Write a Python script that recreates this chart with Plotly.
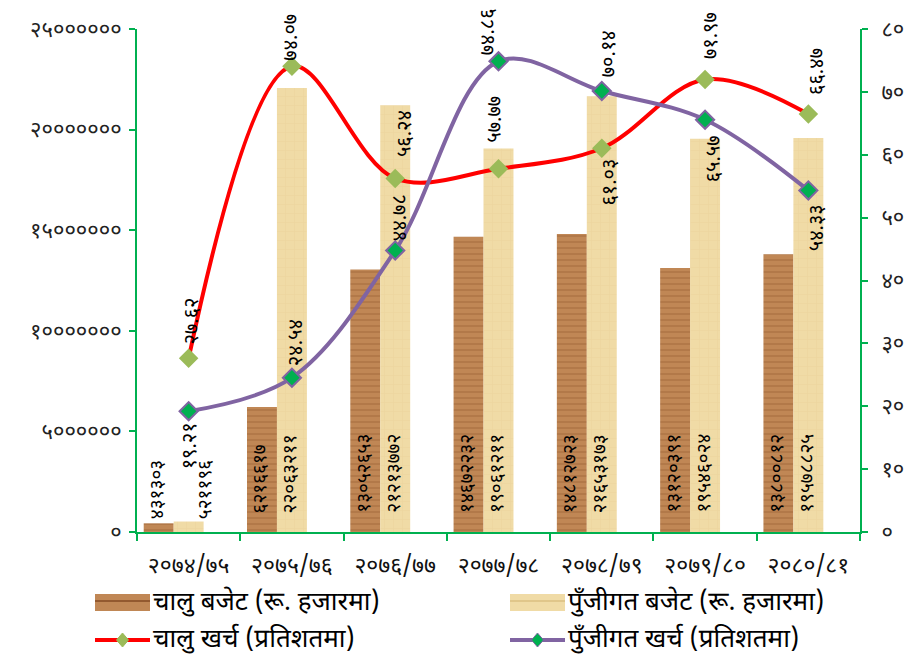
import plotly.graph_objects as go

# ---------------- data ----------------
years = ["२०७४/७५", "२०७५/७६", "२०७६/७७", "२०७७/७८", "२०७८/७९", "२०७९/८०", "२०८०/८१"]
current_budget = [431303, 6216617, 13052653, 14672232, 14812723, 13120391, 13800812]
capital_budget = [521196, 22063211, 21213772, 19061211, 21653173, 19546024, 19578825]
current_exp_pct = [27.62, 74.07, 56.24, 57.77, 61.03, 71.97, 66.47]
capital_exp_pct = [19.21, 24.54, 44.78, 74.86, 70.14, 65.57, 54.33]
left_ticks = [0, 5000000, 10000000, 15000000, 20000000, 25000000]
right_ticks = [0, 10, 20, 30, 40, 50, 60, 70, 80]

name_cur_budget = "चालु बजेट (रू. हजारमा)"
name_cap_budget = "पुँजीगत बजेट (रू. हजारमा)"
name_cur_exp = "चालु खर्च (प्रतिशतमा)"
name_cap_exp = "पुँजीगत खर्च (प्रतिशतमा)"

DEV = str.maketrans("0123456789", "०१२३४५६७८९")


def dev(s):
    return str(s).translate(DEV)


# ---------------- styles ----------------
W, H = 906, 658
ML, MR, MT, MB = 137, 46, 29, 126
PW, PH = W - ML - MR, H - MT - MB
FONT = "Noto Sans Devanagari, Mangal, Lohit Devanagari, Kalimati, FreeSans, Noto Sans, sans-serif"
GREEN = "#00B050"
BROWN = "#C08755"
BROWN_DARK = "#93592F"
BEIGE = "#F0DBA6"
BEIGE_DARK = "#E0C68A"
RED = "#FF0000"
PURPLE = "#8064A2"
OLIVE = "#9BBB59"
BAR_W = 0.29


def px_x(p):
    return (p - ML) / PW


def px_y(p):
    return (H - MB - p) / PH


fig = go.Figure()

fig.add_trace(go.Bar(
    x=years, y=current_budget, name=name_cur_budget,
    width=BAR_W, offset=-1.5 * BAR_W,
    marker=dict(color=BROWN, line=dict(width=0),
                pattern=dict(shape="-", fgcolor=BROWN_DARK, fgopacity=0.35, size=6, solidity=0.3)),
    hoverinfo="x+y",
))
fig.add_trace(go.Bar(
    x=years, y=capital_budget, name=name_cap_budget,
    width=BAR_W, offset=-0.5 * BAR_W,
    marker=dict(color=BEIGE, line=dict(width=0),
                pattern=dict(shape="+", fgcolor=BEIGE_DARK, fgopacity=0.3, size=9, solidity=0.12)),
    hoverinfo="x+y",
))
fig.add_trace(go.Scatter(
    x=years, y=current_exp_pct, name=name_cur_exp, yaxis="y2",
    mode="lines+markers",
    line=dict(color=RED, width=4, shape="spline", smoothing=1.0),
    marker=dict(symbol="diamond", size=15, color=OLIVE, line=dict(width=0)),
))
fig.add_trace(go.Scatter(
    x=years, y=capital_exp_pct, name=name_cap_exp, yaxis="y2",
    mode="lines+markers",
    line=dict(color=PURPLE, width=4, shape="spline", smoothing=1.0),
    marker=dict(symbol="diamond", size=14, color=GREEN, line=dict(width=2, color=PURPLE)),
))

annotations = []

# bar value labels (rotated, starting near the base)
bar_label_lift = [11, 17, 17, 17, 17, 17, 17]
cap_label_dx = [18, 0, 0, 0, 0, 0, 0]
for i, yr in enumerate(years):
    for vals, xs in ((current_budget, -30), (capital_budget, cap_label_dx[i])):
        annotations.append(dict(
            x=yr, y=0, xref="x", yref="y", text=dev(vals[i]), textangle=-90,
            showarrow=False, xanchor="center", yanchor="bottom",
            xshift=xs, yshift=bar_label_lift[i],
            font=dict(family=FONT, size=19, color="#000000"),
        ))

# line value labels
cur_place = [("above", 4, 12), ("above", 0, 4), ("above", 11, 19), ("above", -2, 24),
             ("below", 9, 8), ("above", 7, 18), ("above", 9, 17)]
cap_place = [("below", 2, 9), ("above", 5, 10), ("above", 6, 7), ("above", -10, 4),
             ("above", 9, 12), ("below", 10, 14), ("below", 10, 12)]
for series, places in ((current_exp_pct, cur_place), (capital_exp_pct, cap_place)):
    for i, yr in enumerate(years):
        pos, dx, dy = places[i]
        annotations.append(dict(
            x=yr, y=series[i], xref="x", yref="y2", text=dev(f"{series[i]:.2f}"),
            textangle=-90, showarrow=False, xanchor="center",
            yanchor="bottom" if pos == "above" else "top",
            xshift=dx, yshift=dy if pos == "above" else -dy,
            font=dict(family=FONT, size=20, color="#000000"),
        ))

# manual legend
shapes = []
legend_rows = [
    (603, [(95, "bar", BROWN, BROWN_DARK, name_cur_budget), (510, "bar", BEIGE, BEIGE_DARK, name_cap_budget)]),
    (640, [(95, "line", RED, OLIVE, name_cur_exp), (510, "line", PURPLE, GREEN, name_cap_exp)]),
]
for yc, items in legend_rows:
    for x0, kind, c1, c2, label in items:
        if kind == "bar":
            shapes.append(dict(type="rect", xref="paper", yref="paper",
                               x0=px_x(x0), x1=px_x(x0 + 55), y0=px_y(yc + 8), y1=px_y(yc - 9),
                               fillcolor=c1, line=dict(width=0)))
            shapes.append(dict(type="line", xref="paper", yref="paper",
                               x0=px_x(x0), x1=px_x(x0 + 55), y0=px_y(yc - 2), y1=px_y(yc - 2),
                               line=dict(color=c2, width=2)))
        else:
            shapes.append(dict(type="line", xref="paper", yref="paper",
                               x0=px_x(x0), x1=px_x(x0 + 55), y0=px_y(yc), y1=px_y(yc),
                               line=dict(color=c1, width=4)))
            xc = x0 + 27.5
            path = (f"M {px_x(xc - 6)} {px_y(yc)} L {px_x(xc)} {px_y(yc - 7)} "
                    f"L {px_x(xc + 6)} {px_y(yc)} L {px_x(xc)} {px_y(yc + 7)} Z")
            shapes.append(dict(type="path", xref="paper", yref="paper", path=path,
                               fillcolor=c2, line=dict(color=c1 if c2 == GREEN else c2, width=1)))
        annotations.append(dict(
            x=px_x(x0 + 56), y=px_y(yc), xref="paper", yref="paper", text=label,
            showarrow=False, xanchor="left", yanchor="middle",
            font=dict(family=FONT, size=26, color="#000000"),
        ))

fig.update_layout(
    width=W, height=H,
    margin=dict(l=ML, r=MR, t=MT, b=MB, pad=0, autoexpand=False),
    paper_bgcolor="white", plot_bgcolor="white",
    barmode="overlay", showlegend=False,
    font=dict(family=FONT, color="#000000"),
    xaxis=dict(
        type="category", range=[-0.5, 6.5], showgrid=False, zeroline=False,
        showline=True, linecolor=GREEN, linewidth=2,
        ticks="outside", tickson="boundaries", ticklen=7, tickwidth=2, tickcolor=GREEN,
        tickfont=dict(family=FONT, size=23, color="#111111"), ticklabelstandoff=11,
        automargin=False,
    ),
    yaxis=dict(
        range=[0, 25000000], showgrid=False, zeroline=False,
        showline=True, linecolor=GREEN, linewidth=2,
        ticks="outside", ticklen=6, tickwidth=2, tickcolor=GREEN,
        tickvals=left_ticks, ticktext=[dev(v) for v in left_ticks],
        tickfont=dict(family=FONT, size=22, color="#222222"), ticklabelstandoff=3,
        automargin=False,
    ),
    yaxis2=dict(
        range=[0, 80], overlaying="y", side="right", showgrid=False, zeroline=False,
        showline=True, linecolor=GREEN, linewidth=2,
        ticks="outside", ticklen=6, tickwidth=2, tickcolor=GREEN,
        tickvals=right_ticks, ticktext=[dev(v) for v in right_ticks],
        tickfont=dict(family=FONT, size=22, color="#222222"), ticklabelstandoff=9,
        automargin=False,
    ),
    annotations=annotations,
    shapes=shapes,
)

fig.write_html("out.html", config={"displayModeBar": False},
               post_script="document.body.style.margin='0';")
